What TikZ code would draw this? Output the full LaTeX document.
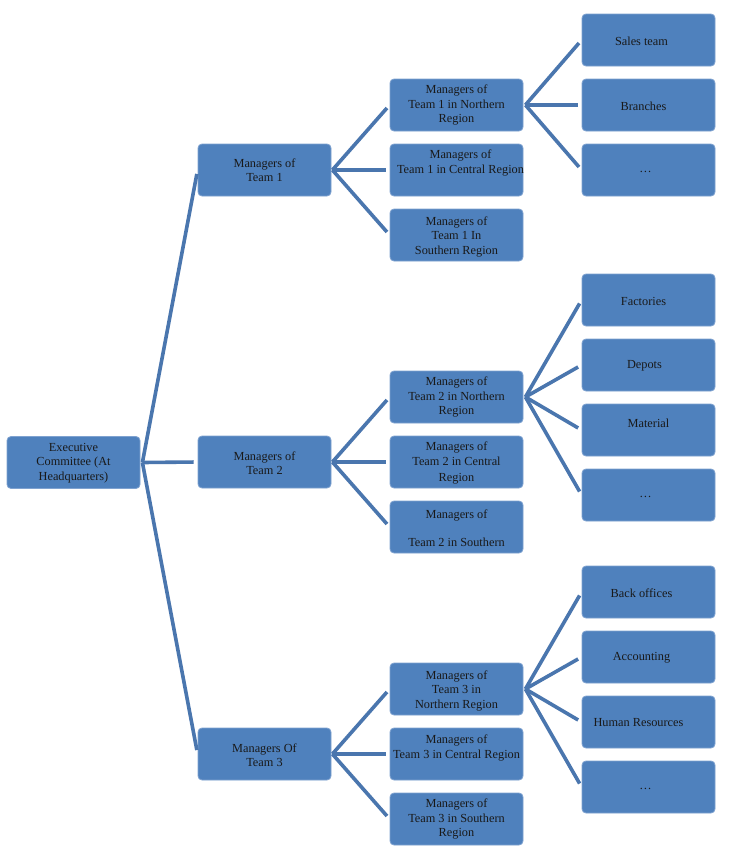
\documentclass[tikz,border=0pt]{standalone}
\usepackage{fontspec}
\setmainfont{Liberation Serif}
\usetikzlibrary{calc}
\definecolor{boxblue}{HTML}{4F81BD}
\definecolor{lineblue}{HTML}{4A76AE}
\definecolor{edgeblue}{HTML}{7FA2D0}
\begin{document}
\begin{tikzpicture}[x=1pt,y=-1pt,
  box/.style={draw=edgeblue,line width=0.8pt,fill=boxblue,rounded corners=4pt,
    minimum width=133pt,minimum height=52pt,inner sep=0pt},
  txt/.style={align=center,inner sep=0pt,text=black!90,
    font=\fontsize{12.3}{14.5}\selectfont},
  conn/.style={draw=lineblue,line width=3.6pt,shorten >=4pt}]
\useasboundingbox[fill=white] (0,0) rectangle (738,860);
% helper: box + text node
\newcommand{\bx}[6]{%
  \node[box] (#1) at (#2,#3) {};
  \node[txt] (#1t) at ($(#1.center)+(#5,#6)$) {#4};}
% level 1
\bx{exe}{73.5}{462.5}{Executive\\Committee (At\\Headquarters)}{0}{0.5}
% level 2
\bx{t1}{264.5}{170}{Managers of\\Team 1}{0}{0}
\bx{t2}{264.5}{462}{Managers of\\Team 2}{0}{1}
\bx{t3}{264.5}{754}{Managers Of\\Team 3}{0}{1}
% level 3
\bx{t1n}{456.5}{105}{Managers of\\Team 1 in Northern\\Region}{0}{0}
\bx{t1c}{456.5}{170}{Managers of\\Team 1 in Central Region}{4}{-7}
\bx{t1s}{456.5}{235}{Managers of\\Team 1 In\\Southern Region}{0}{1.5}
\bx{t2n}{456.5}{397}{Managers of\\Team 2 in Northern\\Region}{0}{0}
\bx{t2c}{456.5}{462}{Managers of\\Team 2 in Central\\[2pt]Region}{0}{1}
\bx{t2s}{456.5}{527}{Managers of\\[14pt]Team 2 in Southern}{0}{1}
\bx{t3n}{456.5}{689}{Managers of\\Team 3 in\\Northern Region}{0}{1.5}
\bx{t3c}{456.5}{754}{Managers of\\Team 3 in Central Region}{0}{-6}
\bx{t3s}{456.5}{819}{Managers of\\Team 3 in Southern\\Region}{0}{0}
% level 4
\bx{a1}{648.5}{40}{Sales team}{-7}{1}
\bx{a2}{648.5}{105}{Branches}{-5}{1}
\bx{a3}{648.5}{170}{\dots}{-3}{2}
\bx{b1}{648.5}{300}{Factories}{-5}{1}
\bx{b2}{648.5}{365}{Depots}{-4}{1}
\bx{b3}{648.5}{430}{Material}{0}{-7}
\bx{b4}{648.5}{495}{\dots}{-3}{2}
\bx{c1}{648.5}{592}{Back offices}{-7}{1}
\bx{c2}{648.5}{657}{Accounting}{-7}{1}
\bx{c3}{648.5}{722}{Human Resources}{-10}{1}
\bx{c4}{648.5}{787}{\dots}{-3}{2}
% connectors
\foreach \c in {t1,t2,t3} \draw[conn] ($(exe.east)+(2,0)$) -- (\c.west);
\foreach \c in {t1n,t1c,t1s} \draw[conn] ($(t1.east)+(1,0)$) -- (\c.west);
\foreach \c in {t2n,t2c,t2s} \draw[conn] ($(t2.east)+(1,0)$) -- (\c.west);
\foreach \c in {t3n,t3c,t3s} \draw[conn] ($(t3.east)+(1,0)$) -- (\c.west);
\foreach \c in {a1,a2,a3} \draw[conn] ($(t1n.east)+(2,0)$) -- (\c.west);
\foreach \c in {b1,b2,b3,b4} \draw[conn] ($(t2n.east)+(2,0)$) -- (\c.west);
\foreach \c in {c1,c2,c3,c4} \draw[conn] ($(t3n.east)+(2,0)$) -- (\c.west);
\end{tikzpicture}
\end{document}
